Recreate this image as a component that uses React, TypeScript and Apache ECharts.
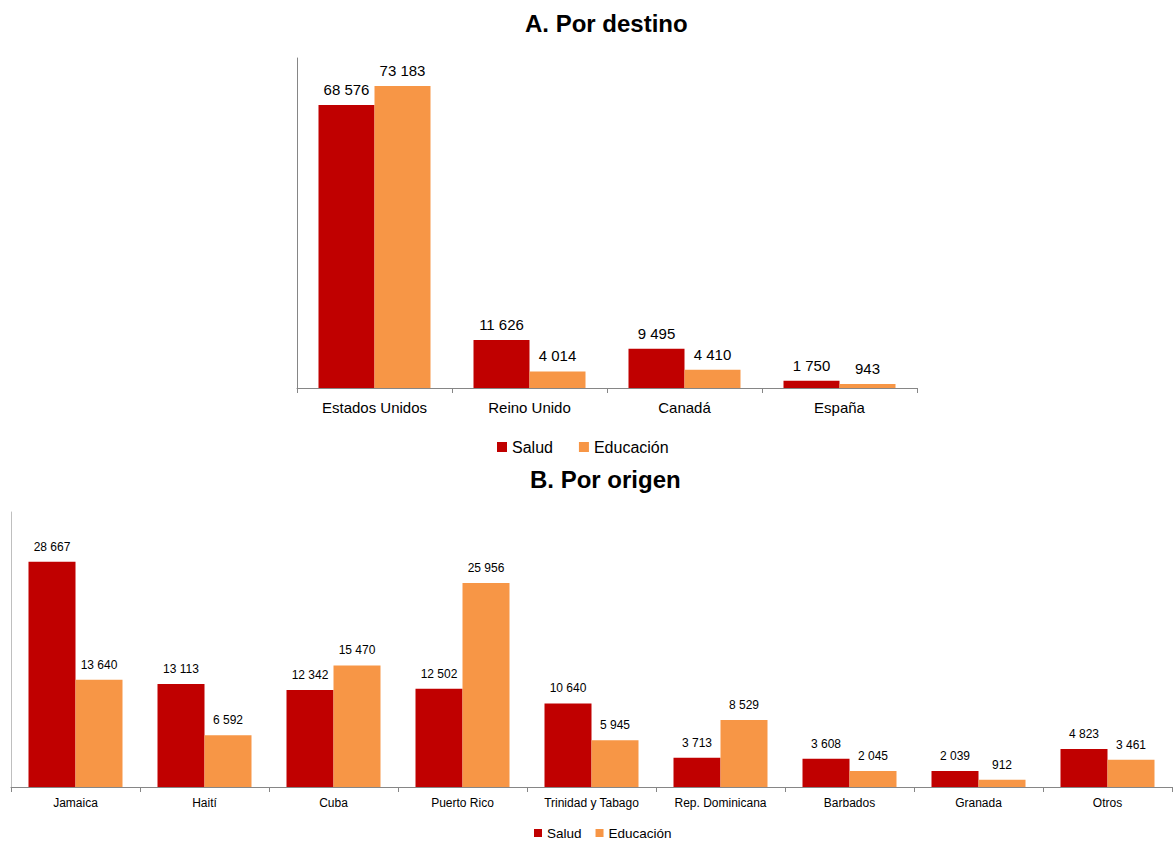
import React, { useEffect, useRef } from "react";
import * as echarts from "echarts";

const destCategories = ["Estados Unidos", "Reino Unido", "Canadá", "España"];
const destSalud = [68576, 11626, 9495, 1750];
const destEducacion = [73183, 4014, 4410, 943];

const origCategories = ["Jamaica", "Haití", "Cuba", "Puerto Rico", "Trinidad y Tabago", "Rep. Dominicana", "Barbados", "Granada", "Otros"];
const origSalud = [28667, 13113, 12342, 12502, 10640, 3713, 3608, 2039, 4823];
const origEducacion = [13640, 6592, 15470, 25956, 5945, 8529, 2045, 912, 3461];

const seriesNames = ["Salud", "Educación"];
const colors = ["#C00000", "#F79646"];

const fmt = (v: number) => String(v).replace(/\B(?=(\d{3})+(?!\d))/g, " ");
const FONT = "Liberation Sans, Arial, sans-serif";

export default function App() {
  const ref = useRef<HTMLDivElement>(null);
  useEffect(() => {
    if (!ref.current) return;
    const chart = echarts.init(ref.current, null, { renderer: "svg" });
    const mkSeries = (name: string, data: number[], idx: number, color: string, fs: number) => ({
      name,
      type: "bar",
      xAxisIndex: idx,
      yAxisIndex: idx,
      data,
      barWidth: idx === 0 ? 56 : 47,
      barGap: "0%",
      itemStyle: { color },
      label: {
        show: true,
        position: "top",
        distance: idx === 0 ? 8 : 9,
        color: "#000",
        fontSize: fs,
        fontFamily: FONT,
        formatter: (p: any) => fmt(p.value),
      },
    });
    chart.setOption({
      animation: false,
      textStyle: { fontFamily: FONT },
      title: [
        { text: "A. Por destino", left: 525, top: 11, padding: 0, textStyle: { fontSize: 24, fontWeight: "bold", color: "#000", fontFamily: FONT } },
        { text: "B. Por origen", left: 530, top: 467, padding: 0, textStyle: { fontSize: 24, fontWeight: "bold", color: "#000", fontFamily: FONT } },
      ],
      legend: [
        { data: seriesNames, left: 497, top: 439, padding: 0, icon: "rect", itemWidth: 10, itemHeight: 10, itemGap: 26, textStyle: { fontSize: 16, color: "#000", fontFamily: FONT } },
        { data: seriesNames, left: 534, top: 826, padding: 0, icon: "rect", itemWidth: 8, itemHeight: 8, itemGap: 14, textStyle: { fontSize: 13.5, color: "#000", fontFamily: FONT } },
      ],
      grid: [
        { left: 297, top: 58, width: 620, height: 330 },
        { left: 11, top: 512, width: 1161, height: 275 },
      ],
      xAxis: [
        {
          type: "category", gridIndex: 0, data: destCategories,
          axisLine: { lineStyle: { color: "#868686" } },
          axisTick: { show: true, length: 5, inside: false, lineStyle: { color: "#868686" } },
          axisLabel: { fontSize: 15, color: "#000", margin: 12, fontFamily: FONT },
        },
        {
          type: "category", gridIndex: 1, data: origCategories,
          axisLine: { lineStyle: { color: "#868686" } },
          axisTick: { show: true, length: 5, lineStyle: { color: "#868686" } },
          axisLabel: { fontSize: 12, color: "#000", margin: 10, fontFamily: FONT },
        },
      ],
      yAxis: [
        {
          type: "value", gridIndex: 0, min: 0, max: 80000,
          axisLine: { show: true, lineStyle: { color: "#868686" } },
          axisTick: { show: false }, axisLabel: { show: false }, splitLine: { show: false },
        },
        {
          type: "value", gridIndex: 1, min: 0, max: 35000,
          axisLine: { show: true, lineStyle: { color: "#BFBFBF" } },
          axisTick: { show: false }, axisLabel: { show: false }, splitLine: { show: false },
        },
      ],
      series: [
        mkSeries("Salud", destSalud, 0, colors[0], 15),
        mkSeries("Educación", destEducacion, 0, colors[1], 15),
        mkSeries("Salud", origSalud, 1, colors[0], 12),
        mkSeries("Educación", origEducacion, 1, colors[1], 12),
      ],
    });
    return () => chart.dispose();
  }, []);
  return <div ref={ref} style={{ position: "absolute", left: 0, top: 0, width: 1174, height: 842, background: "#fff" }} />;
}
